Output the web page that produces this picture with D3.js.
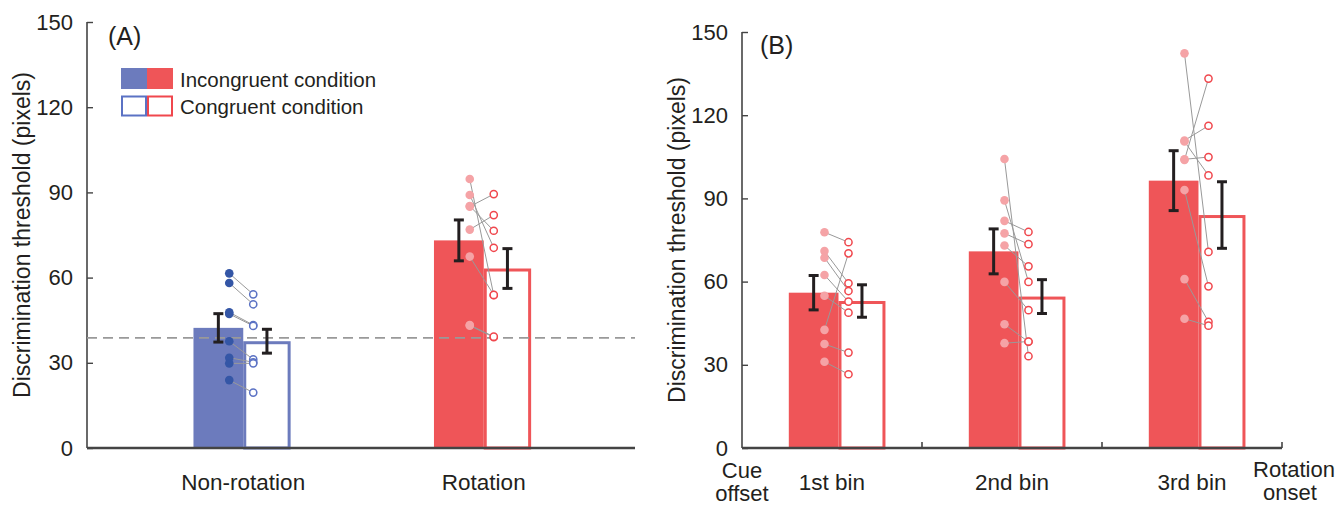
<!DOCTYPE html>
<html>
<head>
<meta charset="utf-8">
<script src="https://cdn.jsdelivr.net/npm/d3@7"></script>
<style>
  html, body { margin: 0; padding: 0; background: #fff; }
  svg { display: block; font-family: "Liberation Sans", Arial, Helvetica, sans-serif; }
</style>
</head>
<body>
<svg id="chart" width="1338" height="508"></svg>
<script>
// ---------- Data ----------
const yTicks = [0, 30, 60, 90, 120, 150];

// Panel A
const catsA = ["Non-rotation", "Rotation"];
const meanIncA = [42.3, 73.1];
const meanConA = [37.6, 63.2];
const semIncA = [5.0, 7.2];
const semConA = [4.2, 7.0];
const subjIncA = [
  [61.5, 58.1, 47.8, 47.2, 37.6, 31.8, 29.8, 23.9],
  [94.7, 89.1, 85.0, 85.2, 76.9, 67.4, 43.1, 43.3]
];
const subjConA = [
  [54.1, 50.6, 43.3, 43.0, 31.2, 30.2, 29.8, 19.5],
  [53.8, 70.5, 89.4, 76.5, 82.0, 53.9, 39.0, 39.2]
];
const chanceLevel = 38.8;

// Panel B
const binsB = ["1st bin", "2nd bin", "3rd bin"];
const meanIncB = [56.0, 70.9, 96.4];
const meanConB = [53.0, 54.6, 84.0];
const semIncB = [6.2, 8.1, 10.8];
const semConB = [5.85, 6.1, 12.0];
const subjIncB = [
  [77.8, 71.0, 68.6, 62.4, 54.9, 42.6, 37.5, 31.1],
  [104.2, 89.3, 81.9, 77.4, 73.0, 59.9, 44.6, 37.8],
  [142.3, 110.9, 110.5, 103.9, 104.1, 93.0, 60.9, 46.6]
];
const subjConB = [
  [74.2, 59.4, 56.6, 52.8, 48.8, 70.2, 34.4, 26.6],
  [33.1, 59.9, 77.9, 73.5, 65.5, 49.7, 38.3, 38.4],
  [70.7, 116.2, 98.3, 133.2, 104.9, 58.3, 45.5, 44.1]
];
const legendLabels = ["Incongruent condition", "Congruent condition"];

// ---------- Styles ----------
const C = {
  blueFill: "#6c7bbd", blueDot: "#3456a6", blueHollow: "#5b72c4",
  redFill: "#ef5558", redDot: "#f5a3a6", redHollow: "#f0474d",
  text: "#231f20", axis: "#444", link: "#999", err: "#231f20"
};

const svg = d3.select("#chart");

function drawPanel(opt) {
  const g = svg.append("g");
  const y = d3.scaleLinear().domain([0, 150]).range([opt.y0, opt.y1]);
  const x = d3.scaleBand().domain(opt.cats).range(opt.bandRange);
  const bw = x.bandwidth();
  const fx0 = c => x(c) + bw * opt.f0;
  const fx1 = c => x(c) + bw * opt.f1;
  const fx2 = c => x(c) + bw * opt.f2;

  // y axis (inward ticks)
  const yAxis = d3.axisLeft(y).tickValues(yTicks).tickSize(-6).tickPadding(14).tickSizeOuter(0);
  const ya = g.append("g").attr("transform", `translate(${opt.axisX},0)`).call(yAxis);
  ya.select(".domain").attr("stroke", C.axis).attr("stroke-width", 1.6)
    .attr("d", `M0,${y(0)}V${y(150)}`);
  ya.selectAll(".tick line").attr("stroke", C.axis).attr("stroke-width", 1.4);
  ya.selectAll(".tick text").attr("fill", C.text).attr("font-size", 22)
    .attr("font-family", "Liberation Sans, Arial, sans-serif");

  // y label
  g.append("text")
    .attr("transform", `translate(${opt.titleX},${(y(0) + y(150)) / 2}) rotate(-90)`)
    .attr("text-anchor", "middle").attr("dy", "0.35em")
    .attr("font-size", 23).attr("fill", C.text)
    .text("Discrimination threshold (pixels)");

  // bars
  opt.cats.forEach((c, i) => {
    g.append("rect").attr("x", fx0(c)).attr("y", y(opt.mInc[i]))
      .attr("width", fx1(c) - fx0(c)).attr("height", y(0) - y(opt.mInc[i]))
      .attr("fill", opt.fill[i]);
    g.append("rect").attr("x", fx1(c) + 1.5).attr("y", y(opt.mCon[i]) + 1.5)
      .attr("width", fx2(c) - fx1(c) - 3).attr("height", y(0) - y(opt.mCon[i]) - 1.5)
      .attr("fill", "#fff").attr("stroke", opt.fill[i]).attr("stroke-width", 3);
  });

  // x axis
  g.append("line").attr("x1", opt.axisX).attr("x2", opt.axisEnd)
    .attr("y1", y(0)).attr("y2", y(0)).attr("stroke", C.axis).attr("stroke-width", 2.4);
  (opt.xTicks || []).forEach(t => {
    const xt = t === null ? opt.axisEnd : x(t);
    g.append("line").attr("x1", xt).attr("x2", xt).attr("y1", y(0)).attr("y2", y(0) - 6)
      .attr("stroke", C.axis).attr("stroke-width", 1.6);
  });

  // chance level
  if (opt.chance != null) {
    g.append("line").attr("x1", opt.axisX).attr("x2", opt.axisEnd)
      .attr("y1", y(opt.chance)).attr("y2", y(opt.chance))
      .attr("stroke", "#999").attr("stroke-width", 1.8).attr("stroke-dasharray", "10,6");
  }

  // subjects
  opt.cats.forEach((c, i) => {
    const xi = fx1(c) - 14, xc = fx1(c) + 10;
    opt.sInc[i].forEach((v, k) => {
      g.append("line").attr("x1", xi).attr("y1", y(v)).attr("x2", xc).attr("y2", y(opt.sCon[i][k]))
        .attr("stroke", C.link).attr("stroke-width", 1);
    });
    opt.sInc[i].forEach(v => {
      g.append("circle").attr("cx", xi).attr("cy", y(v)).attr("r", 4.3).attr("fill", opt.dot[i]);
    });
    opt.sCon[i].forEach(v => {
      g.append("circle").attr("cx", xc).attr("cy", y(v)).attr("r", 3.6)
        .attr("fill", "#fff").attr("stroke", opt.hollow[i]).attr("stroke-width", 1.5);
    });
  });

  // error bars
  function errBar(cx, m, s) {
    const eg = g.append("g").attr("stroke", C.err).attr("stroke-width", 3);
    eg.append("line").attr("x1", cx).attr("x2", cx).attr("y1", y(m - s)).attr("y2", y(m + s));
    eg.append("line").attr("x1", cx - 5).attr("x2", cx + 5).attr("y1", y(m - s)).attr("y2", y(m - s));
    eg.append("line").attr("x1", cx - 5).attr("x2", cx + 5).attr("y1", y(m + s)).attr("y2", y(m + s));
  }
  opt.cats.forEach((c, i) => {
    errBar((fx0(c) + fx1(c)) / 2, opt.mInc[i], opt.eInc[i]);
    errBar((fx1(c) + fx2(c)) / 2, opt.mCon[i], opt.eCon[i]);
  });

  // category labels
  opt.cats.forEach(c => {
    g.append("text").attr("x", x(c) + bw * opt.labelFrac).attr("y", opt.labelY)
      .attr("text-anchor", "middle").attr("font-size", 22.5).attr("fill", C.text).text(c);
  });

  // panel letter
  g.append("text").attr("x", opt.letterX).attr("y", opt.letterY)
    .attr("font-size", 25).attr("fill", C.text).text(opt.letter);

  return { g, x, y };
}

// Panel A
const pa = drawPanel({
  cats: catsA, y0: 448, y1: 22, axisX: 87, axisEnd: 635, bandRange: [123, 604],
  f0: 0.293, f1: 0.5, f2: 0.697, labelFrac: 0.5, labelY: 490,
  mInc: meanIncA, mCon: meanConA, eInc: semIncA, eCon: semConA,
  sInc: subjIncA, sCon: subjConA,
  fill: [C.blueFill, C.redFill], dot: [C.blueDot, C.redDot], hollow: [C.blueHollow, C.redHollow],
  chance: chanceLevel, titleX: 22, letter: "(A)", letterX: 108, letterY: 45
});

// Legend (panel A)
const lg = pa.g.append("g");
[[C.blueFill, 121], [C.redFill, 147]].forEach(([col, lx]) => {
  lg.append("rect").attr("x", lx).attr("y", 68).attr("width", 26).attr("height", 21).attr("fill", col);
});
[[C.blueHollow, 121], [C.redHollow, 147]].forEach(([col, lx]) => {
  lg.append("rect").attr("x", lx + 1).attr("y", 96.5).attr("width", 24).attr("height", 19)
    .attr("fill", "#fff").attr("stroke", col).attr("stroke-width", 2);
});
legendLabels.forEach((t, i) => {
  lg.append("text").attr("x", 180).attr("y", 87 + i * 27).attr("font-size", 20.5)
    .attr("fill", C.text).text(t);
});

// Panel B
const pb = drawPanel({
  cats: binsB, y0: 448, y1: 32, axisX: 742, axisEnd: 1282, bandRange: [742, 1282],
  f0: 0.26, f1: 0.536, f2: 0.797, labelFrac: 0.5, labelY: 490,
  mInc: meanIncB, mCon: meanConB, eInc: semIncB, eCon: semConB,
  sInc: subjIncB, sCon: subjConB,
  fill: [C.redFill, C.redFill, C.redFill], dot: [C.redDot, C.redDot, C.redDot],
  hollow: [C.redHollow, C.redHollow, C.redHollow],
  chance: null, titleX: 677, letter: "(B)", letterX: 760, letterY: 54,
  xTicks: ["2nd bin", "3rd bin", null]
});

// endpoint labels for panel B
[["Cue", 742, 478], ["offset", 742, 501], ["Rotation", 1294, 477], ["onset", 1290, 500]].forEach(([t, tx, ty]) => {
  pb.g.append("text").attr("x", tx).attr("y", ty).attr("text-anchor", "middle")
    .attr("font-size", 22).attr("fill", C.text).text(t);
});
</script>
</body>
</html>
